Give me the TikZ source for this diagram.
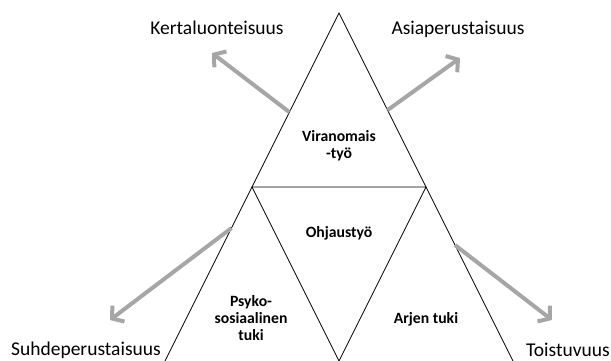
\documentclass[tikz,border=0pt]{standalone}
\usepackage{fontspec}
\setmainfont{Carlito}
\usetikzlibrary{arrows.meta}
\definecolor{arrowgray}{HTML}{A6A6A6}

\begin{document}
\begin{tikzpicture}[x=1pt,y=-1pt,line join=miter]
\tikzstyle{side}=[draw=black,line width=0.8pt]
\tikzstyle{trend}=[draw=arrowgray,line width=4pt,-{Straight Barb[length=8pt,width=20pt]}]
\tikzstyle{area}=[font=\bfseries\fontsize{15.7}{17}\selectfont,align=center]
\tikzstyle{trait}=[font=\fontsize{19.5}{23}\selectfont,anchor=base]

\useasboundingbox (0,0) rectangle (611,361);

% corners of the triangles
\coordinate (top)	at (339,13);
\coordinate (ml)	at (252,187);
\coordinate (mr)	at (426,187);
\coordinate (bl)	at (165,361);
\coordinate (bm)	at (339,361);
\coordinate (br)	at (513,361);

\draw[side] (bl) -- (top) -- (br);
\draw[side] (ml) -- (mr) -- (bm) -- cycle;

% areas
\node[area] (viranomais)	at (339,146)	{Viranomais\\-työ};
\node[area] (ohjaus)		at (339,233)	{Ohjaustyö};
\node[area] (psyko)		at (251,318)	{Psyko-\\sosiaalinen\\tuki};
\node[area] (arki)		at (426,319)	{Arjen tuki};

% traits
\node[trait] (kerta)	at (217,35)	{Kertaluonteisuus};
\node[trait] (asia)	at (458,35)	{Asiaperustaisuus};
\node[trait] (suhde)	at (86,355)	{Suhdeperustaisuus};
\node[trait] (toisto)	at (568,356)	{Toistuvuus};

% arrows out of the sides
\path (top) -- (bl) coordinate[pos=0.285] (k0) coordinate[pos=0.618] (s0);
\path (top) -- (br) coordinate[pos=0.279] (a0) coordinate[pos=0.667] (t0);
\coordinate (k1) at (212,53);
\coordinate (a1) at (460,58);
\coordinate (s1) at (110,320);
\coordinate (t1) at (552,320);

\draw[trend] (k0) -- (k1);
\draw[trend] (a0) -- (a1);
\draw[trend] (s0) -- (s1);
\draw[trend] (t0) -- (t1);

\end{tikzpicture}
\end{document}
